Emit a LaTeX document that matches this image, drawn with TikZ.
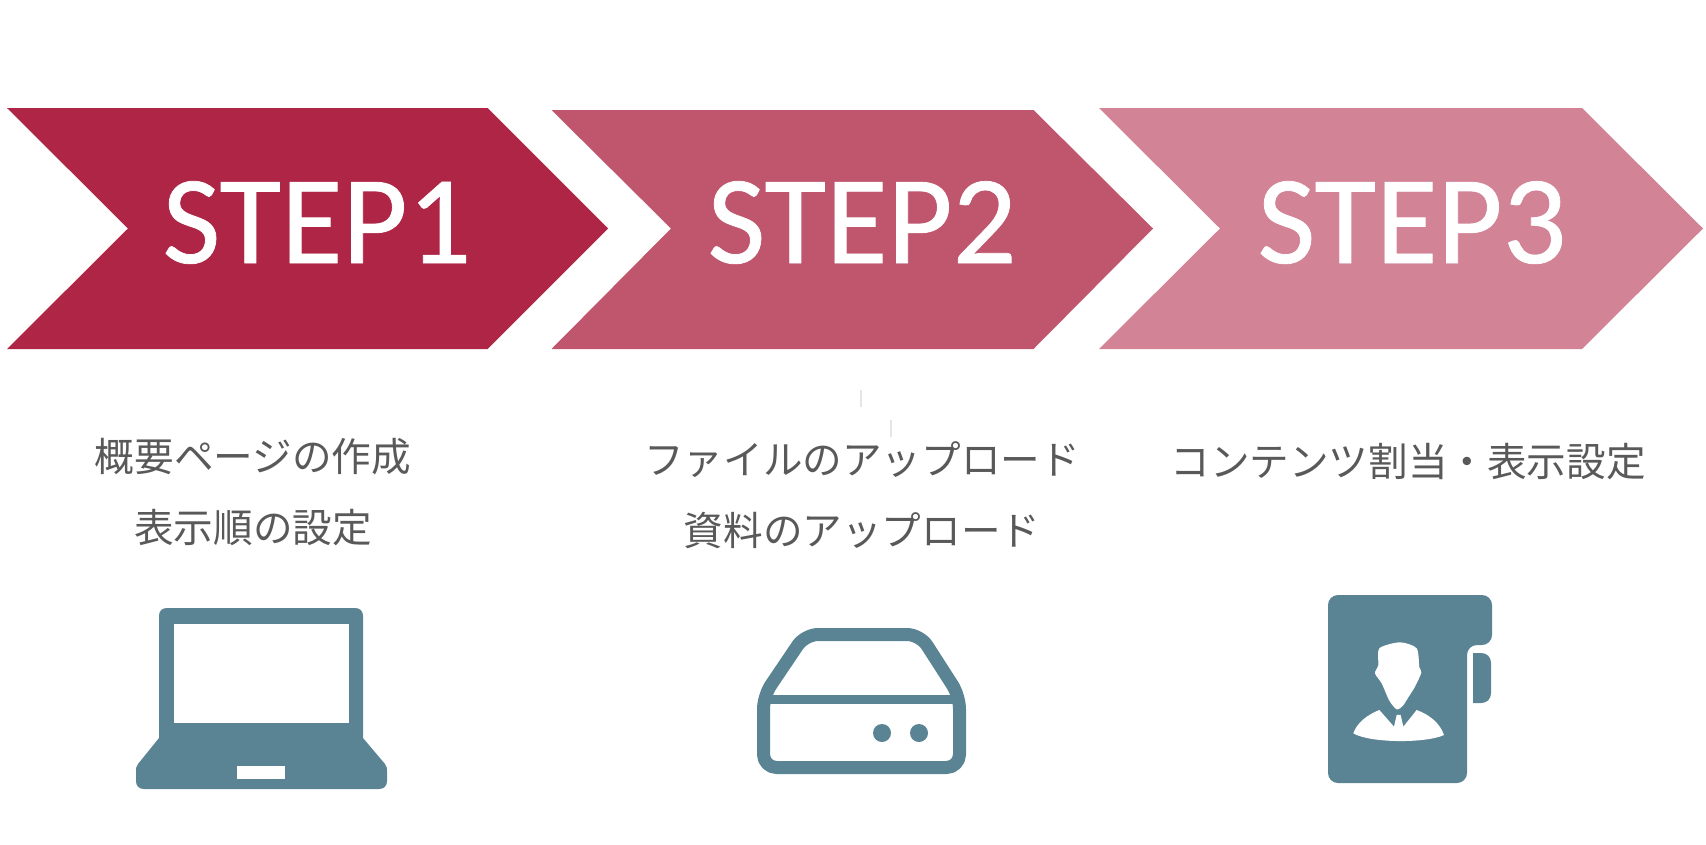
\documentclass[tikz,border=0pt]{standalone}
\usepackage{fontspec}
\setmainfont[FakeBold=0.6]{Carlito}
\newfontfamily\jpfont{Noto Sans CJK JP}
\definecolor{chevA}{HTML}{AE2545}
\definecolor{chevB}{HTML}{C0566D}
\definecolor{chevC}{HTML}{D28396}
\definecolor{icon}{HTML}{5A8494}
\definecolor{cap}{HTML}{595959}
\tikzset{
  steplabel/.style={text=white,inner sep=0pt,anchor=base,font=\fontsize{126}{126}\selectfont},
  caption/.style={text=cap,inner sep=0pt,anchor=base,font=\jpfont\fontsize{39.6}{40}\selectfont},
  iconfill/.style={fill=icon,draw=none},
  iconline/.style={draw=icon,line join=round},
  tick/.style={draw=black!10,line width=2pt}
}
\begin{document}
\begin{tikzpicture}[x=1pt,y=-1pt]
\useasboundingbox[fill=white] (0,0) rectangle (1706,844);
% chevrons
\fill[chevA] (7,108) -- (487.5,108) -- (608,228.5) -- (487.5,349) -- (7,349) -- (128,228.5) -- cycle;
\fill[chevB] (551.5,110) -- (1033.5,110) -- (1153,228.5) -- (1033.5,349) -- (551.5,349) -- (671,228.5) -- cycle;
\fill[chevC] (1099,108) -- (1582,108) -- (1703,228.5) -- (1582,349) -- (1099,349) -- (1220,228.5) -- cycle;
\node[steplabel] (s1) at (317,263) {STEP1};
\node[steplabel] (s2) at (862,263) {STEP2};
\node[steplabel] (s3) at (1412,263) {STEP3};
% ticks
\draw[tick] (861,390) -- (861,407);
\draw[tick] (891,420) -- (891,437);
% captions
\node[caption] (c1a) at (253,471) {概要ページの作成};
\node[caption] (c1b) at (253,542) {表示順の設定};
\node[caption] (c2a) at (862,474) {ファイルのアップロード};
\node[caption] (c2b) at (862,545) {資料のアップロード};
\node[caption] (c3a) at (1408,476) {コンテンツ割当・表示設定};
% laptop
\fill[iconfill]
  (167,608) -- (355,608) .. controls (360,608) and (363,611) .. (363,616) -- (363,738)
  -- (385,764) .. controls (387,767) and (387,768) .. (387,771) -- (387,781)
  .. controls (387,786) and (384,789) .. (379,789) -- (144,789)
  .. controls (139,789) and (136,786) .. (136,781) -- (136,771)
  .. controls (136,768) and (136,767) .. (138,764) -- (159,738) -- (159,616)
  .. controls (159,611) and (162,608) .. (167,608) -- cycle;
\fill[white] (174,624) rectangle (349,723);
\fill[white] (237,766) rectangle (285,779);
% drive
\draw[iconline,line width=13pt,rounded corners=13pt]
  (763.5,730) -- (763.5,767.5) -- (959.5,767.5) -- (959.5,696) -- (920,634.5) -- (805,634.5) -- (763.5,696) -- cycle;
\draw[iconline,line width=9pt] (763.5,699.5) -- (959.5,699.5);
\fill[iconfill] (882,733) circle (9) (919,733) circle (9);
% contact book
\fill[iconfill,rounded corners=10pt] (1328,595) -- (1492,595) -- (1492,645) -- (1467,645)
  -- (1467,783) -- (1328,783) -- cycle;
\fill[iconfill] (1473,653) -- (1481,653) .. controls (1487,653) and (1491,657) .. (1491,663)
  -- (1491,693) .. controls (1491,699) and (1487,703) .. (1481,703) -- (1473,703) -- cycle;
\begin{scope}[shift={(1300,580)},x=0.3333pt,y=-0.3333pt]
\fill[white] plot[smooth cycle,tension=0.45] coordinates {(238,205) (300,187) (350,205) (358,262) (364,278) (345,320) (325,352) (308,378) (290,388) (268,362) (245,310) (225,280) (235,255)};
\fill[white] (160,460) .. controls (170,430) and (200,405) .. (238,390) -- (282,440) -- (290,405) -- (302,405) -- (310,440) -- (350,390) .. controls (390,405) and (420,430) .. (432,465) .. controls (380,490) and (210,490) .. (160,460) -- cycle;
\end{scope}
\end{tikzpicture}
\end{document}
